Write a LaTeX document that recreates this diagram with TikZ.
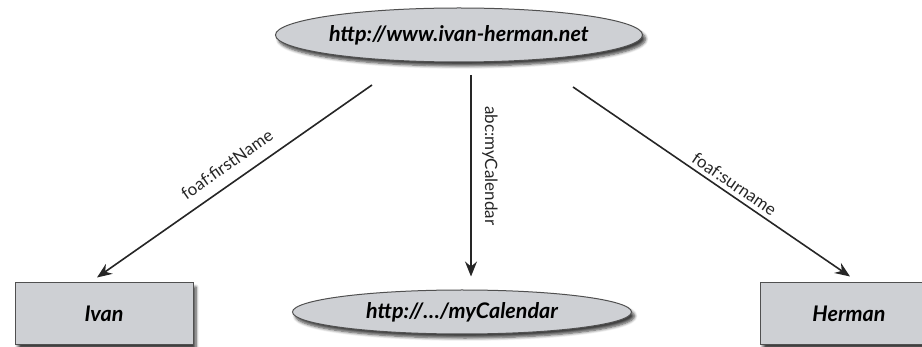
\documentclass[tikz,border=0pt]{standalone}
\usepackage{fontspec}
\setmainfont{Lato}
\usetikzlibrary{shapes.geometric,arrows.meta,shadows.blur,calc}
\definecolor{nodefill}{RGB}{206,208,212}
\definecolor{nodeline}{RGB}{80,80,80}
\begin{document}
\begin{tikzpicture}[x=1pt,y=-1pt,
  shade/.style={blur shadow={shadow xshift=3pt, shadow yshift=-4pt, shadow blur steps=6, shadow blur radius=3pt, shadow opacity=75}},
  res/.style={ellipse, draw=nodeline, line width=1pt, fill=nodefill, inner sep=0pt, shade,
    font=\fontsize{21.5}{24}\selectfont\bfseries\itshape},
  lit/.style={rectangle, draw=nodeline, line width=1pt, fill=nodefill, inner sep=0pt, shade,
    font=\fontsize{21.5}{24}\selectfont\bfseries\itshape},
  arc/.style={draw=black!85, line width=1.6pt, -{Stealth[length=15pt,width=12pt,inset=5pt]}},
  elabel/.style={font=\fontsize{17}{19}\selectfont, text=black!85, inner sep=0pt}
]
\useasboundingbox (0,0) rectangle (922,347);

\node[res, minimum width=332pt, minimum height=54pt] (site) at (459,35) {http://www.ivan-herman.net};
\node[res, minimum width=339pt, minimum height=44pt] (cal) at (462,312) {http://…/myCalendar};
\node[lit, minimum width=178pt, minimum height=62pt] (ivan) at (104,314) {Ivan};
\node[lit, minimum width=178pt, minimum height=62pt] (herman) at (849,314) {Herman};

\coordinate (s1) at ($(site.center)+(-87,50)$);
\coordinate (s2) at ($(site.center)+(12,40)$);
\coordinate (s3) at ($(site.center)+(114,52)$);
\coordinate (e1) at ($(ivan.north)+(-7,-5)$);
\coordinate (e2) at ($(cal.north)+(9,-13)$);
\coordinate (e3) at ($(herman.north)+(1,-6)$);

\draw[arc] (s1) -- node[elabel, sloped, pos=0.49, above=11pt] (l1) {foaf:firstName} (e1);
\draw[arc] (s2) -- (e2);
\node[elabel, rotate=-90, anchor=south] (l2) at ($(s2)!0.45!(e2)+(11,0)$) {abc:myCalendar};
\draw[arc] (s3) -- node[elabel, sloped, pos=0.56, above=4pt] (l3) {foaf:surname} (e3);
\end{tikzpicture}
\end{document}
